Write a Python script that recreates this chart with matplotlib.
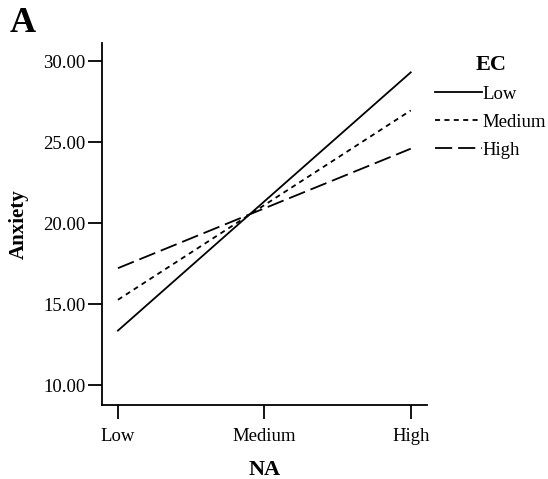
import matplotlib
matplotlib.use("Agg")
import matplotlib.pyplot as plt

# Data
na_levels = ["Low", "Medium", "High"]
ec_low = [13.37, 21.34, 29.30]
ec_medium = [15.27, 21.11, 26.95]
ec_high = [17.22, 20.91, 24.59]
y_ticks = [10, 15, 20, 25, 30]

plt.rcParams['font.family'] = ['Liberation Serif', 'DejaVu Serif']

fig = plt.figure(figsize=(5.48, 4.79), dpi=100)
ax = fig.add_axes([0.1861, 0.1545, 0.5931, 0.7557])

x = list(range(len(na_levels)))
lw = 1.3
ax.plot(x, ec_low, color='black', lw=lw, linestyle='-', label='Low')
ax.plot(x, ec_medium, color='black', lw=lw, linestyle=(0, (2.8, 2.4)), label='Medium')
ax.plot(x, ec_high, color='black', lw=lw, linestyle=(0, (9.5, 3.3)), label='High')

ax.set_xlim(-0.109, 2.111)
ax.set_ylim(8.78, 31.11)
ax.set_xticks(x)
ax.set_xticklabels(na_levels)
ax.set_yticks(y_ticks)
ax.set_yticklabels([f"{v:.2f}" for v in y_ticks])

for s in ['top', 'right']:
    ax.spines[s].set_visible(False)
for s in ['left', 'bottom']:
    ax.spines[s].set_linewidth(1.3)
ax.tick_params(axis='both', direction='out', length=10, width=1.3, labelsize=13.5, colors='black')
ax.tick_params(axis='y', pad=2)
ax.tick_params(axis='x', pad=6.5)

ax.set_xlabel("NA", fontsize=16, fontweight='bold', labelpad=11)
ax.set_ylabel("Anxiety", fontsize=15, fontweight='bold', labelpad=10)

leg = ax.legend(loc='upper left', bbox_to_anchor=(435 / 548, 1 - 55 / 479),
                bbox_transform=fig.transFigure, frameon=False,
                title='EC', title_fontproperties={'weight': 'bold', 'size': 16, 'family': 'Liberation Serif'},
                fontsize=13.5, handlelength=2.5, handletextpad=0.05, labelspacing=0.58,
                borderaxespad=0, borderpad=0)

fig.text(10 / 548, 1 - 7 / 479, "A", fontsize=26, fontweight='bold', va='top', ha='left')

fig.savefig("out.png", dpi=100)
